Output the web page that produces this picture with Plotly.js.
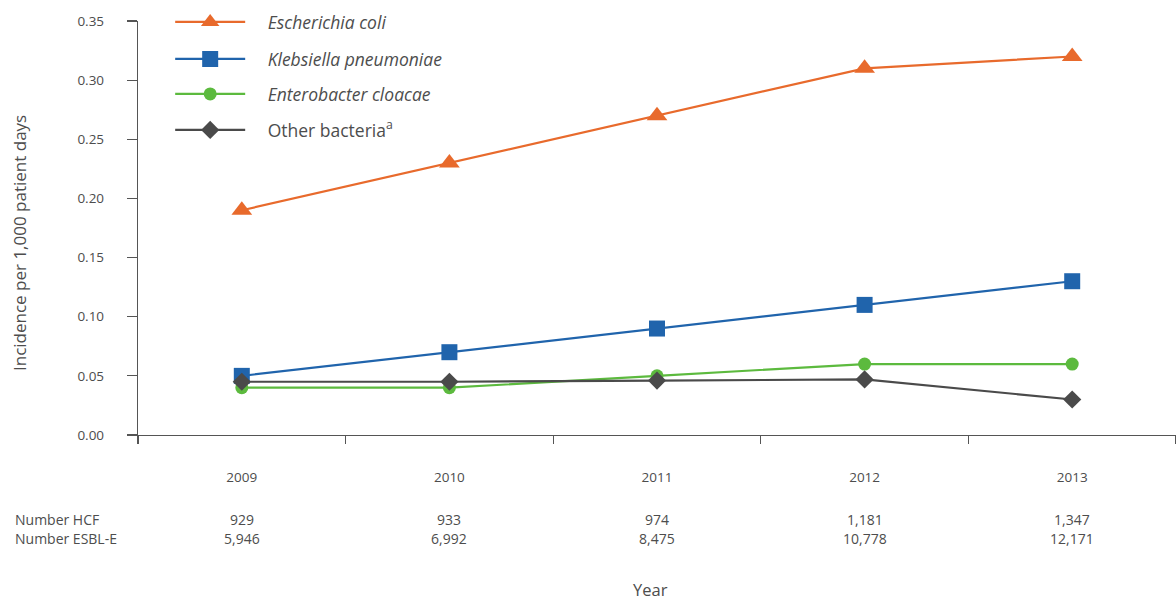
<!DOCTYPE html>
<html>
<head>
<meta charset="utf-8">
<script src="https://cdn.plot.ly/plotly-3.0.1.min.js"></script>
<style>html,body{margin:0;padding:0;background:#fff;}#chart{width:1176px;height:601px;}</style>
</head>
<body>
<div id="chart"></div>
<script>
const years = ["2009", "2010", "2011", "2012", "2013"];
const ecoli = [0.19, 0.23, 0.27, 0.31, 0.32];
const klebsiella = [0.05, 0.07, 0.09, 0.11, 0.13];
const enterobacter = [0.04, 0.04, 0.05, 0.06, 0.06];
const other = [0.045, 0.045, 0.046, 0.047, 0.03];
const numberHCF = ["929", "933", "974", "1,181", "1,347"];
const numberESBL = ["5,946", "6,992", "8,475", "10,778", "12,171"];
const rowLabels = ["Number HCF", "Number ESBL-E"];
const yTicks = [0, 0.05, 0.10, 0.15, 0.20, 0.25, 0.30, 0.35];

const FONT = "Open Sans, sans-serif";
const TXT = "#4d4d4d";
const GAP = "\u2003";

function mk(name, y, color, symbol, size, legend) {
  return {
    type: "scatter", mode: "lines+markers", x: years, y: y, name: GAP + name,
    line: {color: color, width: 2.2},
    marker: {color: color, symbol: symbol, size: size},
    legend: legend, hoverinfo: "skip"
  };
}
const traces = [
  mk("<i>Escherichia coli</i>", ecoli, "#e86a2c", "triangle-up", 18, "legend"),
  mk("<i>Klebsiella pneumoniae</i>", klebsiella, "#2064ac", "square", 16, "legend2"),
  mk("<i>Enterobacter cloacae</i>", enterobacter, "#5cba3e", "circle", 13, "legend3"),
  mk("Other bacteria<sup>a</sup>", other, "#4a4a4a", "diamond", 14, "legend4")
];

const plotH = 601 - 21 - 166;
function py(pix) { return (435 - pix) / plotH; }
function leg(y) {
  return {x: 0.031, xanchor: "left", y: py(y), yanchor: "middle", itemwidth: 70,
    font: {family: FONT, size: 17.5, color: TXT}, bgcolor: "rgba(0,0,0,0)"};
}

const annotations = [];
rowLabels.forEach((t, i) => {
  annotations.push({text: t, xref: "paper", yref: "paper", x: (13 - 138) / 1038, y: py(519 + i * 19),
    xanchor: "left", yanchor: "middle", showarrow: false, font: {family: FONT, size: 14, color: TXT}});
});
years.forEach((yr, i) => {
  annotations.push({text: numberHCF[i], xref: "x", yref: "paper", x: i, y: py(519),
    xanchor: "center", yanchor: "middle", showarrow: false, font: {family: FONT, size: 14, color: TXT}});
  annotations.push({text: numberESBL[i], xref: "x", yref: "paper", x: i, y: py(538),
    xanchor: "center", yanchor: "middle", showarrow: false, font: {family: FONT, size: 14, color: TXT}});
});
annotations.push({text: "Year", xref: "paper", yref: "paper", x: (650 - 138) / 1038, y: py(589),
  xanchor: "center", yanchor: "middle", showarrow: false, font: {family: FONT, size: 16.5, color: TXT}});
annotations.push({text: "Incidence per 1,000 patient days", xref: "paper", yref: "paper",
  x: (20 - 138) / 1038, y: py(243), textangle: -90, xanchor: "center", yanchor: "middle",
  showarrow: false, font: {family: FONT, size: 17, color: TXT}});

const layout = {
  width: 1176, height: 601,
  margin: {l: 138, r: 0, t: 21, b: 166, pad: 0},
  paper_bgcolor: "#fff", plot_bgcolor: "#fff",
  font: {family: FONT, color: TXT},
  showlegend: true,
  legend: leg(22), legend2: leg(59), legend3: leg(94), legend4: leg(130),
  xaxis: {
    type: "category", range: [-0.5, 4.5], tickson: "boundaries",
    showline: true, linecolor: "#555", linewidth: 1.2, showgrid: false, zeroline: false,
    ticks: "outside", ticklen: 8, tickcolor: "#555", tickwidth: 1.2,
    tickfont: {family: FONT, size: 13.5, color: TXT}, ticklabelstandoff: 30, automargin: false
  },
  yaxis: {
    range: [0, 0.35], tickvals: yTicks, tickformat: ".2f",
    showline: true, linecolor: "#555", linewidth: 1.2, showgrid: false, zeroline: false,
    ticks: "outside", ticklen: 10, tickcolor: "#555", tickwidth: 1.2,
    tickfont: {family: FONT, size: 13.5, color: TXT}, ticklabelstandoff: 20, automargin: false
  },
  annotations: annotations
};

Plotly.newPlot("chart", traces, layout, {displayModeBar: false, staticPlot: true});
</script>
</body>
</html>
